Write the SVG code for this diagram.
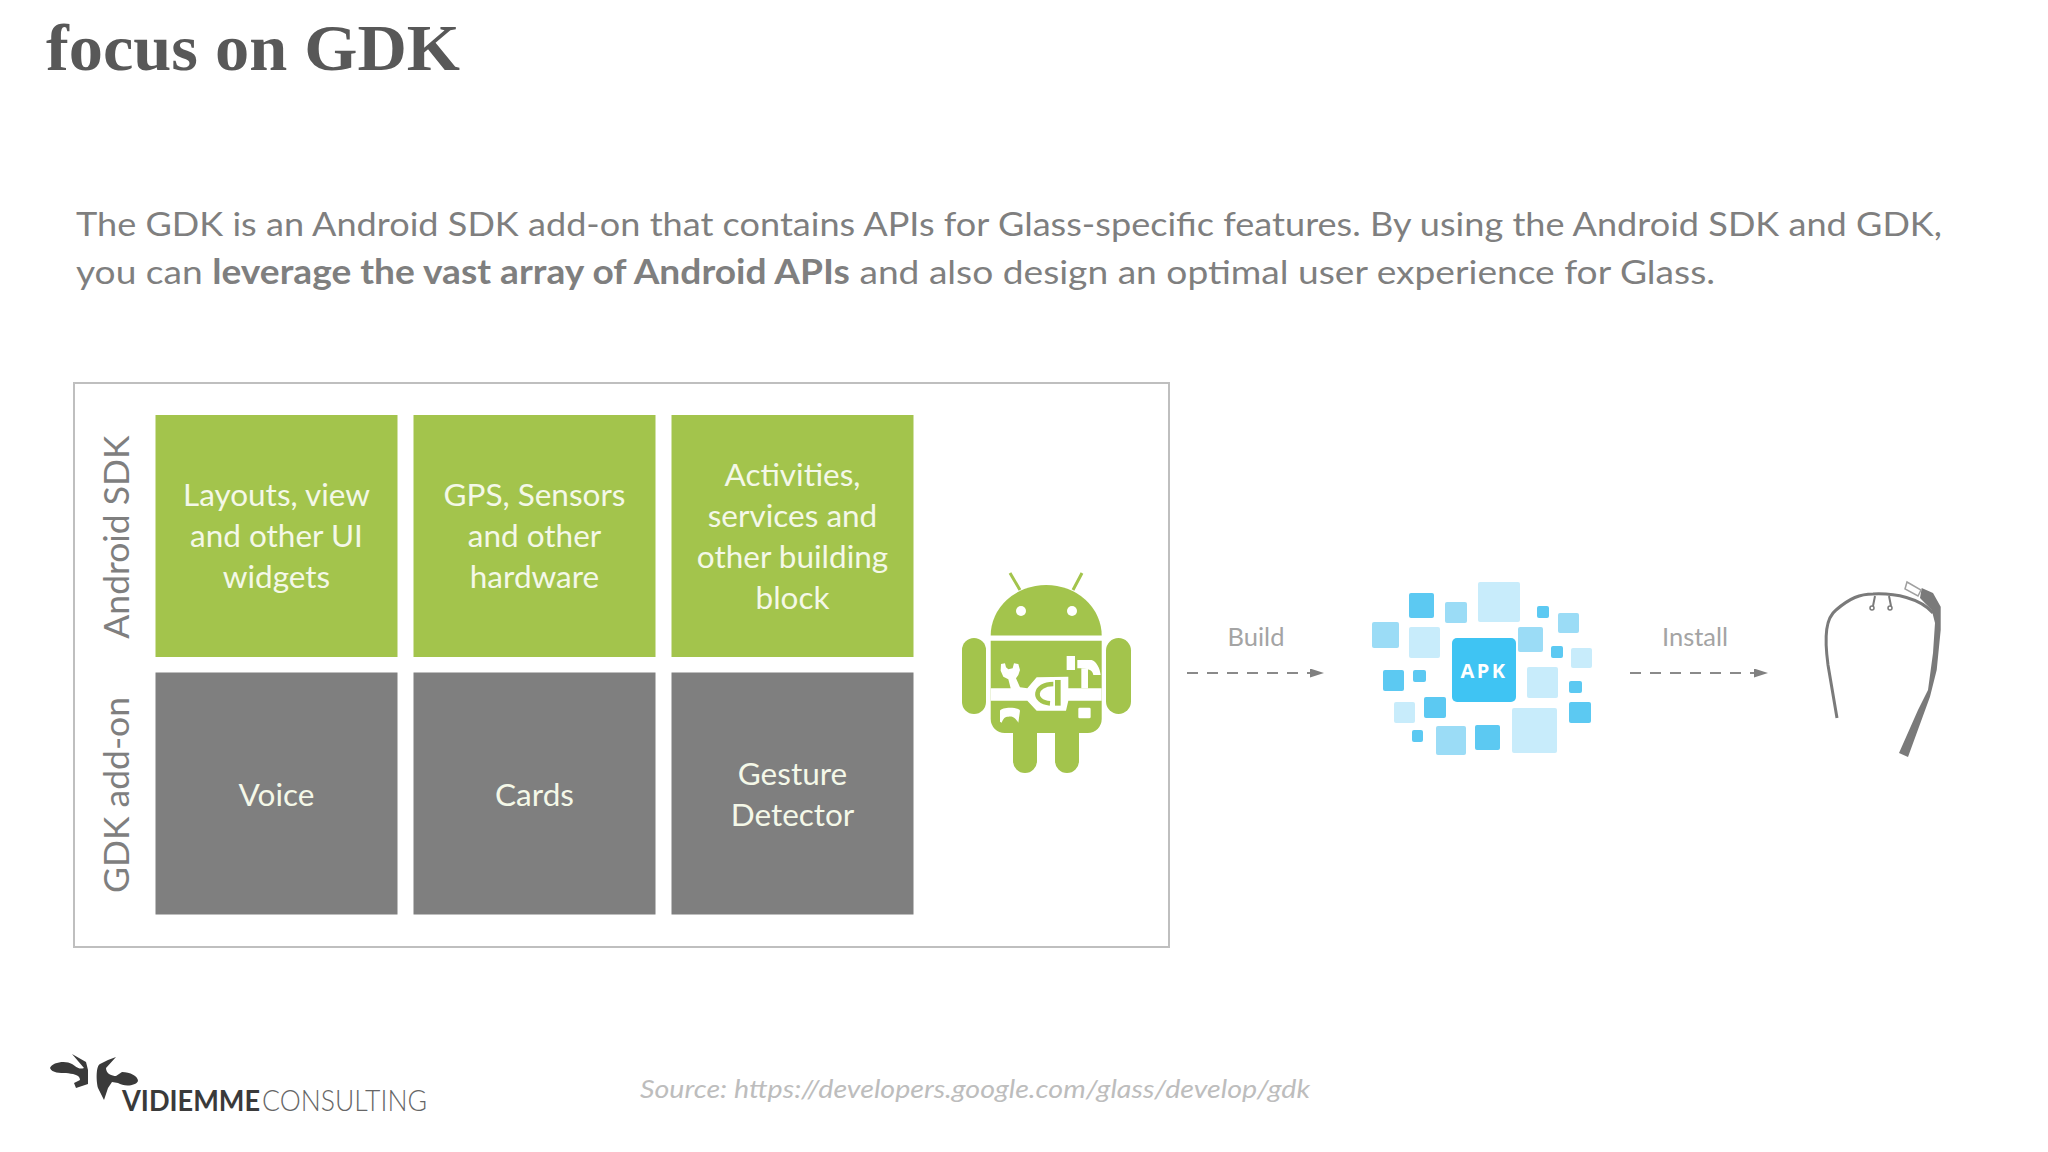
<svg xmlns="http://www.w3.org/2000/svg" width="2048" height="1152" viewBox="0 0 2048 1152">
<style>
text{font-family:"Lato","Open Sans","Liberation Sans",sans-serif}
.title{font-family:"Liberation Serif","DejaVu Serif",serif;font-weight:700;font-size:66px;fill:#585858}
.body{font-size:33.500px;fill:#7f7f7f}
.box{font-size:31.500px;fill:#f4f8e8;text-anchor:middle}
.gb{fill:#fff}
.g{fill:#a3c44c}
.d{fill:#7f7f7f}
.side{font-size:35.500px;fill:#7f7f7f;text-anchor:middle}
.lbl{font-size:25.500px;fill:#a4a4a4;text-anchor:middle}
.s{fill:#5cc9f2}.m{fill:#9bdcf6}.l{fill:#c8ecfb}
.conn{stroke:#8a8a8a;stroke-width:1.800;stroke-dasharray:11 9;fill:none}
</style>
<defs><marker id="arr" markerWidth="14" markerHeight="9" refX="13" refY="4.500" orient="auto" markerUnits="userSpaceOnUse"><path d="M0 0L14 4.500L0 9Z" fill="#808080"/></marker></defs>
<rect width="2048" height="1152" fill="#fff"/>
<text class="title" x="46" y="70" textLength="414" lengthAdjust="spacingAndGlyphs">focus on GDK</text>
<text class="body" x="76" y="235.500" textLength="1866" lengthAdjust="spacingAndGlyphs">The GDK is an Android SDK add-on that contains APIs for Glass-specific features. By using the Android SDK and GDK,</text>
<text class="body" x="76" y="283.500" textLength="1639" lengthAdjust="spacingAndGlyphs">you can <tspan font-weight="700">leverage the vast array of Android APIs</tspan> and also design an optimal user experience for Glass.</text>
<rect id="frame" x="74" y="383" width="1095" height="564" fill="#fff" stroke="#bfbfbf" stroke-width="2"/>
<g id="side-android"><text class="side" transform="translate(129 537) rotate(-90)">Android SDK</text></g>
<g id="side-gdk"><text class="side" transform="translate(129 795) rotate(-90)">GDK add-on</text></g>
<g id="n1"><rect class="g" x="155.500" y="415" width="242" height="242"/><text class="box" x="276.500" y="506">Layouts, view</text><text class="box" x="276.500" y="547">and other UI</text><text class="box" x="276.500" y="588">widgets</text></g>
<g id="n2"><rect class="g" x="413.500" y="415" width="242" height="242"/><text class="box" x="534.500" y="506">GPS, Sensors</text><text class="box" x="534.500" y="547">and other</text><text class="box" x="534.500" y="588">hardware</text></g>
<g id="n3"><rect class="g" x="671.500" y="415" width="242" height="242"/><text class="box" x="792.500" y="486">Activities,</text><text class="box" x="792.500" y="527">services and</text><text class="box" x="792.500" y="568">other building</text><text class="box" x="792.500" y="609">block</text></g>
<g id="n4"><rect class="d" x="155.500" y="672.500" width="242" height="242"/><text class="box" x="276.500" y="806">Voice</text></g>
<g id="n5"><rect class="d" x="413.500" y="672.500" width="242" height="242"/><text class="box" x="534.500" y="806">Cards</text></g>
<g id="n6"><rect class="d" x="671.500" y="672.500" width="242" height="242"/><text class="box" x="792.500" y="785">Gesture</text><text class="box" x="792.500" y="826">Detector</text></g>
<g id="android">
<path class="g" d="M990.700 635.500A55.500 50.500 0 0 1 1101.700 635.500Z"/>
<path d="M1020 590L1010 573M1073 590L1082 573" stroke="#a3c44c" stroke-width="3" fill="none"/>
<circle class="gb" cx="1021" cy="611" r="5"/><circle class="gb" cx="1072" cy="611" r="5"/>
<path class="g" d="M990.700 640.700H1101.700V719a14 14 0 0 1-14 14H1079V761a12 12 0 0 1-24 0V733H1037V761a12 12 0 0 1-24 0V733H1004.700a14 14 0 0 1-14-14Z"/>
<rect class="g" x="962" y="638" width="24" height="76" rx="12"/><rect class="g" x="1106" y="638" width="25" height="76" rx="12.500"/>
<g transform="translate(940 540) scale(.3333)">
<path class="gb" d="M152 445L212 445L205 418L190 410L182 392L183 372L195 370L198 382L205 388L218 385L222 370L235 372L240 390L235 405L228 415L240 442L262 445L290 412L385 410L385 445L485 445L485 482L385 482L378 512L290 512L262 482L152 482Z"/>
<path d="M340 432C282 432 275 485 330 490" stroke="#a3c44c" stroke-width="14" fill="none"/>
<rect class="g" x="345" y="420" width="17" height="77"/>
<rect class="gb" x="380" y="348" width="25" height="42"/>
<path class="gb" d="M412 360L455 360C470 365 480 385 482 405L460 405C458 390 445 385 412 385Z"/>
<rect class="gb" x="424" y="385" width="20" height="60"/>
<path class="gb" d="M180 545L180 512C185 500 235 500 240 512L235 548C225 530 215 528 205 530C195 530 190 535 185 548Z"/>
<rect class="gb" x="415" y="503" width="37" height="32" rx="4"/>
</g>
</g>
<g id="apk">
<rect class="s" x="1409" y="593" width="25" height="25" rx="2"/>
<rect class="m" x="1445" y="602" width="22" height="21" rx="2"/>
<rect class="l" x="1478" y="582" width="42" height="40" rx="2"/>
<rect class="s" x="1537" y="606" width="12" height="12" rx="2"/>
<rect class="m" x="1558" y="613" width="21" height="20" rx="2"/>
<rect class="m" x="1372" y="622" width="27" height="26" rx="2"/>
<rect class="l" x="1409" y="627" width="31" height="31" rx="2"/>
<rect class="m" x="1518" y="627" width="25" height="25" rx="2"/>
<rect class="s" x="1551" y="646" width="12" height="12" rx="2"/>
<rect class="l" x="1571" y="648" width="21" height="20" rx="2"/>
<rect class="s" x="1383" y="670" width="21" height="21" rx="2"/>
<rect class="s" x="1413" y="670" width="13" height="12" rx="2"/>
<rect class="l" x="1527" y="667" width="31" height="31" rx="2"/>
<rect class="s" x="1569" y="681" width="13" height="12" rx="2"/>
<rect class="l" x="1394" y="702" width="21" height="21" rx="2"/>
<rect class="s" x="1424" y="697" width="22" height="21" rx="2"/>
<rect class="s" x="1569" y="702" width="22" height="21" rx="2"/>
<rect class="s" x="1412" y="730" width="11" height="12" rx="2"/>
<rect class="m" x="1436" y="726" width="30" height="29" rx="2"/>
<rect class="s" x="1475" y="725" width="25" height="25" rx="2"/>
<rect class="l" x="1512" y="708" width="45" height="45" rx="2"/>
<rect x="1452" y="638" width="64" height="64" rx="5" fill="#3fc4f3"/>
<text x="1484" y="678" font-size="20" font-weight="700" fill="#fff" text-anchor="middle" letter-spacing="2.500" style="font-family:'Open Sans',sans-serif">APK</text>
</g>
<g id="glass" fill="none" stroke="#7a7a7a">
<path stroke-width="3" d="M1837 718L1828 665C1824 635 1826 618 1836 610C1850 598 1860 594 1873 594C1895 593 1920 598 1933 613"/>
<path stroke-width="2" d="M1875 596L1873 606M1889 596L1891 606"/>
<circle cx="1872" cy="608" r="2" stroke-width="1.500"/><circle cx="1890" cy="608" r="2" stroke-width="1.500"/>
<path fill="#7a7a7a" stroke="none" d="M1921.700 588L1933 593L1940.700 606.700V630L1936.700 670L1930 696.700L1908 757L1899 753L1918 710L1928 690L1933 653L1935 623L1931.700 610L1920 598Z"/>
<path stroke-width="1.500" fill="#fff" stroke="#a0a0a0" d="M1907 582L1921 590L1918 596L1905 589Z"/>
</g>
<g id="connectors">
<path class="conn" marker-end="url(#arr)" d="M1187 673H1323"/>
<path class="conn" marker-end="url(#arr)" d="M1630 673H1767"/>
</g>
<text class="lbl" x="1256" y="646">Build</text>
<text class="lbl" x="1695" y="646">Install</text>
<g id="logo">
<path fill="#3a3a3a" d="M50 1068C52 1062 66 1060 72 1064C76 1066 78 1070 84 1068L72 1054L86 1062L88 1070L88 1084L76 1088L74 1083L80 1080C80 1074 72 1074 66 1073C60 1073 52 1073 50 1068ZM108 1060L116 1057L106 1068C106 1074 112 1076 116 1076L122 1072C130 1072 138 1076 138 1081C136 1086 124 1087 118 1083L112 1082L108 1088L104 1100L98 1088C96 1080 96 1066 100 1064Z"/>
<text x="122" y="1111" font-size="29" font-weight="700" fill="#3a3a3a" textLength="138" lengthAdjust="spacingAndGlyphs">VIDIEMME</text>
<text x="262" y="1111" font-size="29" font-weight="300" fill="#666" textLength="165" lengthAdjust="spacingAndGlyphs">CONSULTING</text>
</g>
<text x="640" y="1097.500" font-size="25" font-style="italic" fill="#bdbdbd" textLength="670" lengthAdjust="spacingAndGlyphs">Source: https://developers.google.com/glass/develop/gdk</text>
</svg>
